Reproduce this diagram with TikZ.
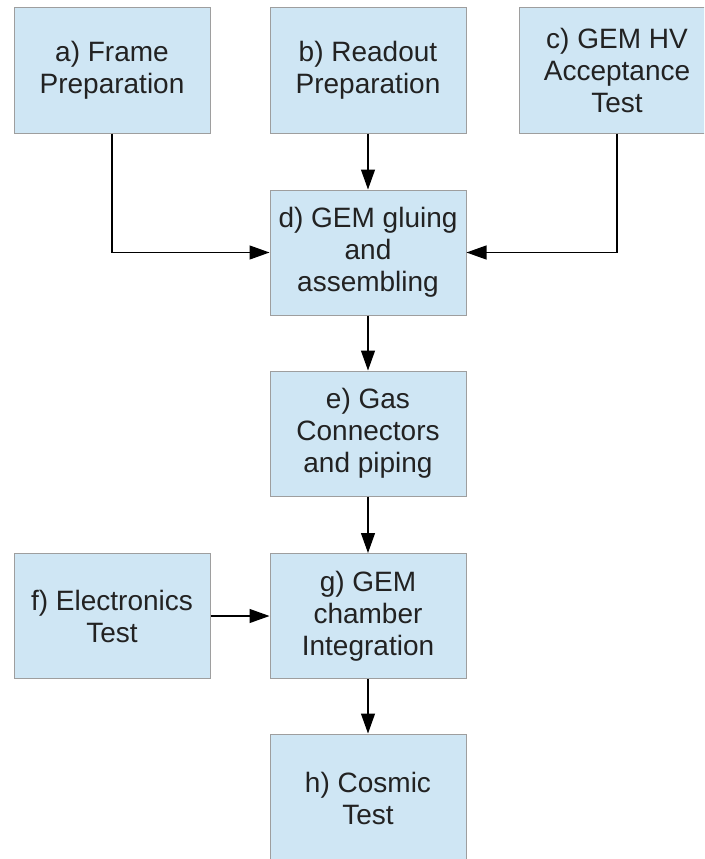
\documentclass[tikz,border=0pt]{standalone}
\usepackage{fontspec}
\setmainfont{Liberation Sans}
\usetikzlibrary{positioning,arrows.meta}
\definecolor{stepfill}{HTML}{CFE6F4}
\definecolor{stepline}{HTML}{9E9E9E}
\definecolor{steptext}{HTML}{222222}

\begin{document}
\begin{tikzpicture}[x=1pt,y=-1pt,
    stepbox/.style={draw=stepline,fill=stepfill,line width=1pt,
      minimum width=196pt,minimum height=125pt,inner sep=0pt,
      align=center,text=steptext,font=\fontsize{28}{32}\selectfont},
    flow/.style={-{Triangle[length=20pt,width=14pt]},line width=1.2pt,black}]
    \useasboundingbox (0,0) rectangle (704,859);
    \clip (0,0) rectangle (704,859);
    % preparation steps
    \node[stepbox] (frame) at (112,70.5){a) Frame\\Preparation};
    \node[stepbox] (readout) at (368,70.5){b) Readout\\Preparation};
    \node[stepbox] (hvtest) at (617,70.5){c) GEM HV\\Acceptance\\Test};
    % assembly chain
    \node[stepbox] (gluing) at (368,252.5){d) GEM gluing\\and\\assembling};
    \node[stepbox] (gas) at (368,433.5){e) Gas\\Connectors\\and piping};
    \node[stepbox] (elec) at (112,616){f) Electronics\\Test};
    \node[stepbox] (integ) at (368,616){g) GEM\\chamber\\Integration};
    \node[stepbox,minimum height=128pt] (cosmic) at (368,798){h) Cosmic\\Test};
    % connectors
    \draw[flow] (frame.south) |- (gluing.west);
    \draw[flow] (hvtest.south) |- (gluing.east);
    \draw[flow] (readout) -- (gluing);
    \draw[flow] (gluing) -- (gas);
    \draw[flow] (gas) -- (integ);
    \draw[flow] (elec) -- (integ);
    \draw[flow] (integ) -- (cosmic);
\end{tikzpicture}
\end{document}
